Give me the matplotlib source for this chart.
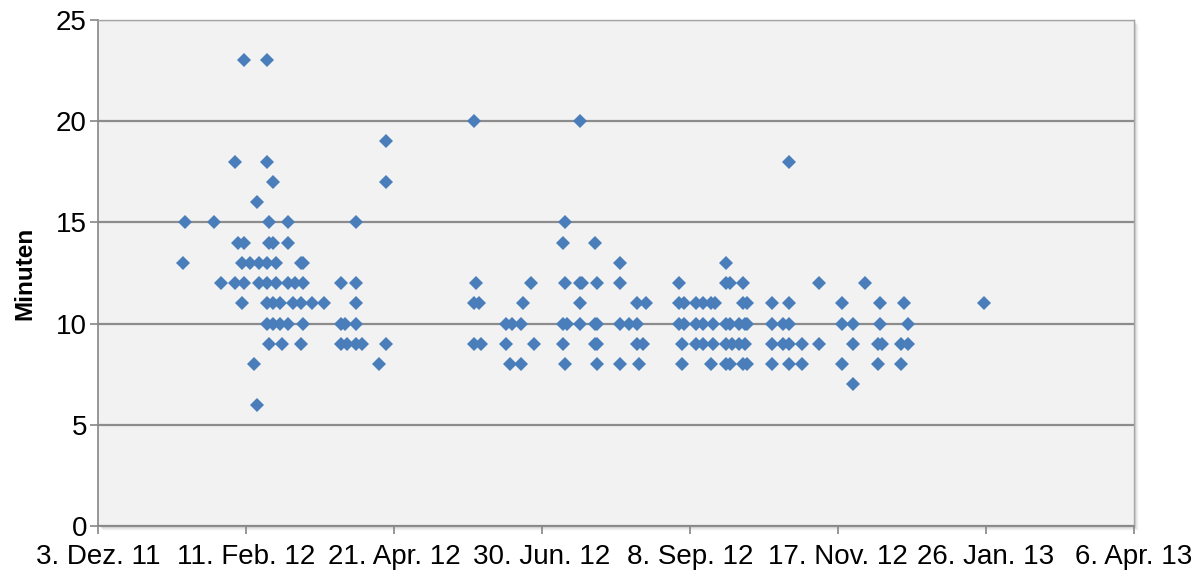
import matplotlib
matplotlib.use("Agg")
import matplotlib.pyplot as plt
from matplotlib.patches import Rectangle
import pandas as pd

# ---- data: elapsed days since start date, grouped by duration in minutes ----
start_date = "2011-12-03"
d23 = [69, 80]
d20 = [178, 228]
d19 = [136]
d18 = [65, 80, 327]
d17 = [83, 136]
d16 = [75]
d15 = [41, 55, 81, 90, 122, 221]
d14 = [66, 69, 81, 83, 90, 220, 235]
d13 = [40, 68, 72, 76, 80, 84, 96, 97, 247, 297]
d12 = [58, 65, 69, 76, 80, 84, 90, 93, 97, 115, 122, 179, 205, 221, 228, 229,
       236, 247, 275, 297, 299, 305, 341, 363]
d11 = [68, 80, 83, 86, 92, 96, 101, 107, 122, 178, 180, 201, 228, 255, 259, 275,
       277, 283, 286, 290, 292, 305, 307, 319, 327, 352, 370, 381, 419]
d10 = [80, 83, 86, 90, 97, 115, 117, 122, 193, 196, 200, 220, 222, 228, 235, 236,
       247, 251, 255, 275, 277, 283, 286, 291, 297, 299, 303, 306, 307, 319, 324,
       327, 352, 357, 370, 383]
d9 = [81, 87, 96, 115, 118, 122, 125, 136, 178, 181, 193, 206, 220, 235, 236, 255,
      258, 276, 283, 286, 291, 297, 300, 303, 306, 319, 324, 327, 333, 341, 357,
      369, 371, 380, 383]
d8 = [74, 133, 195, 200, 221, 236, 247, 256, 276, 290, 297, 299, 305, 307, 319,
      327, 333, 352, 369, 380]
d7 = [357]
d6 = [75]

minute_levels = [23, 20, 19, 18, 17, 16, 15, 14, 13, 12, 11, 10, 9, 8, 7, 6]
day_groups = [d23, d20, d19, d18, d17, d16, d15, d14, d13, d12, d11, d10, d9, d8, d7, d6]

x_tick_dates = ["2011-12-03", "2012-02-11", "2012-04-21", "2012-06-30",
                "2012-09-08", "2012-11-17", "2013-01-26", "2013-04-06"]
x_tick_labels = ["3. Dez. 11", "11. Feb. 12", "21. Apr. 12", "30. Jun. 12",
                 "8. Sep. 12", "17. Nov. 12", "26. Jan. 13", "6. Apr. 13"]
y_ticks = [0, 5, 10, 15, 20, 25]
y_label = "Minuten"

# ---- build series ----
days = []
minutes = []
for m, ds in zip(minute_levels, day_groups):
    days.extend(ds)
    minutes.extend([m] * len(ds))
dates = pd.Timestamp(start_date) + pd.to_timedelta(days, unit="D")

plt.rcParams['font.family'] = ['Liberation Sans', 'DejaVu Sans']

W, H = 1202, 574
fig = plt.figure(figsize=(W / 100, H / 100), dpi=100)
fig.patch.set_facecolor("white")
left, right, bottom, top = 98 / W, 1134 / W, 1 - 526 / H, 1 - 20 / H
ax = fig.add_axes([left, bottom, right - left, top - bottom])

# drop shadow behind plot area
for i, a in enumerate([0.10, 0.07, 0.05, 0.035, 0.02]):
    off = (i + 1)
    fig.patches.append(Rectangle((left + off / W, bottom - off / H), right - left, top - bottom,
                                 transform=fig.transFigure, facecolor="black", alpha=a,
                                 edgecolor="none", zorder=0))

ax.set_facecolor("#F2F2F2")
ax.set_zorder(2)

ax.plot(dates, minutes, linestyle="none", marker="D", markersize=7.4,
        markerfacecolor="#4A7EBB", markeredgewidth=0, zorder=3, clip_on=False)

ax.set_xlim(pd.Timestamp(x_tick_dates[0]), pd.Timestamp(x_tick_dates[-1]))
ax.set_ylim(0, 25)
ax.set_xticks([pd.Timestamp(d) for d in x_tick_dates])
ax.set_xticklabels(x_tick_labels, fontsize=20)
ax.set_yticks(y_ticks)
ax.set_yticklabels([str(v) for v in y_ticks], fontsize=20)

ax.yaxis.grid(True, color="#8C8C8C", linewidth=1.6)
ax.set_axisbelow(True)

for s in ["top", "right"]:
    ax.spines[s].set_color("#A6A6A6")
    ax.spines[s].set_linewidth(1.0)
for s in ["left", "bottom"]:
    ax.spines[s].set_color("#868686")
    ax.spines[s].set_linewidth(1.2)

ax.tick_params(axis="both", colors="#868686", length=6, width=1.2, labelcolor="black")
ax.tick_params(axis="x", pad=7)
ax.tick_params(axis="y", pad=2)

ax.set_ylabel(y_label, fontsize=17.5, fontweight="bold", labelpad=14)

fig.savefig("out.png", dpi=100)
